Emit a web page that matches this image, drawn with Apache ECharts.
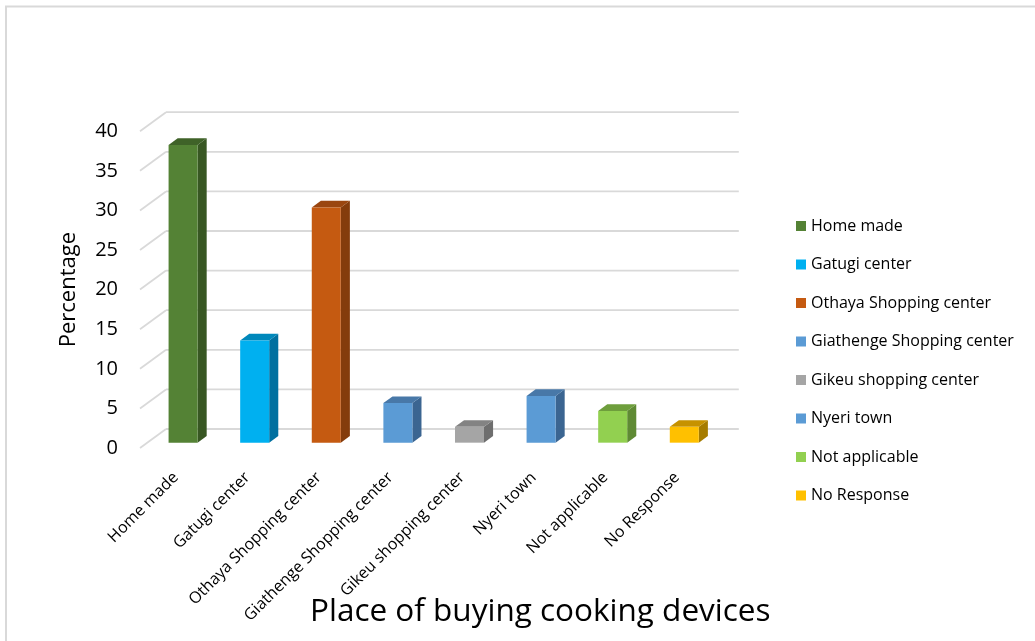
<!DOCTYPE html>
<html>
<head>
<meta charset="utf-8">
<script src="https://cdn.jsdelivr.net/npm/echarts@6/dist/echarts.min.js"></script>
<style>
  html, body { margin: 0; padding: 0; background: #fff; }
  #chart { width: 1035px; height: 641px; }
</style>
</head>
<body>
<div id="chart"></div>
<script>
// Place where households bought their cooking devices (percent of respondents)
const categories = [
  'Home made', 'Gatugi center', 'Othaya Shopping center', 'Giathenge Shopping center',
  'Gikeu shopping center', 'Nyeri town', 'Not applicable', 'No Response'
];
const percentages = [37.6, 12.9, 29.7, 5.0, 2.0, 5.9, 4.0, 2.0];
const yTicks = [0, 5, 10, 15, 20, 25, 30, 35, 40];

// face colours: front, side (darker), top
const palette = [
  ['#548235', '#385723', '#3f6228'],
  ['#00b0f0', '#0070a0', '#0088bb'],
  ['#c55a11', '#843c0c', '#9a4610'],
  ['#5b9bd5', '#3b6591', '#4878a8'],
  ['#a5a5a5', '#6e6e6e', '#838383'],
  ['#5b9bd5', '#3b6591', '#4878a8'],
  ['#92d050', '#5f8a34', '#6e9e3c'],
  ['#ffc000', '#a67c00', '#c69200']
];

const FONT = 'Open Sans';
// depth of the chart box, in pixels (right / up)
const DEPTH = [26, -19];
// bars occupy this slice of the depth
const BAR_D0 = 0.28, BAR_D1 = 0.63;

function renderGrid(params, api) {
  const cs = params.coordSys;
  const v = api.value(0);
  const y = api.coord([0, v])[1];
  const x0 = cs.x;
  const style = { stroke: '#d9d9d9', lineWidth: 1.8 };
  return {
    type: 'group',
    children: [
      { type: 'line', shape: { x1: x0, y1: y, x2: x0 + DEPTH[0], y2: y + DEPTH[1] }, style },
      { type: 'line', shape: { x1: x0 + DEPTH[0], y1: y + DEPTH[1], x2: x0 + DEPTH[0] + cs.width, y2: y + DEPTH[1] }, style }
    ]
  };
}

function makeBarRenderer(colors) {
  return function (params, api) {
    const i = api.value(0), v = api.value(1);
    const base = api.coord([i, 0]);
    const top = api.coord([i, v]);
    const band = api.size([1, 0])[0];
    const w = band * 0.405;
    const ox = DEPTH[0] * BAR_D0, oy = DEPTH[1] * BAR_D0;
    const dx = DEPTH[0] * (BAR_D1 - BAR_D0), dy = DEPTH[1] * (BAR_D1 - BAR_D0);
    const xl = base[0] - w / 2 + ox, xr = base[0] + w / 2 + ox;
    const yb = base[1] + oy, yt = top[1] + oy;
    return {
      type: 'group',
      children: [
        { type: 'polygon', shape: { points: [[xr, yb], [xr + dx, yb + dy], [xr + dx, yt + dy], [xr, yt]] },
          style: { fill: colors[1] } },
        { type: 'polygon', shape: { points: [[xl, yt], [xr, yt], [xr + dx, yt + dy], [xl + dx, yt + dy]] },
          style: { fill: colors[2] } },
        { type: 'rect', shape: { x: xl, y: yt, width: xr - xl, height: yb - yt },
          style: { fill: colors[0] } }
      ]
    };
  };
}

const barSeries = categories.map((name, i) => ({
  type: 'custom',
  name: name,
  itemStyle: { color: palette[i][0] },
  renderItem: makeBarRenderer(palette[i]),
  data: [[i, percentages[i]]],
  z: 3
}));

const chart = echarts.init(document.getElementById('chart'), null, { renderer: 'canvas' });
chart.setOption({
  animation: false,
  backgroundColor: '#ffffff',
  title: {
    text: 'Place of buying cooking devices',
    left: 305,
    top: 591,
    textStyle: { fontFamily: FONT, fontSize: 31.5, fontWeight: 'normal', color: '#000' }
  },
  legend: {
    orient: 'vertical',
    left: 791,
    top: 212,
    itemWidth: 10,
    itemHeight: 10,
    itemGap: 20.5,
    icon: 'rect',
    data: categories,
    textStyle: { fontFamily: FONT, fontSize: 16, color: '#000', lineHeight: 18 }
  },
  grid: { left: 140, width: 572.8, top: 131.2, bottom: 193, containLabel: false },
  xAxis: {
    type: 'category', data: categories,
    axisLine: { show: false }, axisTick: { show: false },
    axisLabel: { rotate: 45, margin: 27, interval: 0, fontFamily: FONT, fontSize: 16, color: '#000' }
  },
  yAxis: {
    type: 'value', min: 0, max: 40, interval: 5,
    name: 'Percentage', nameLocation: 'middle', nameGap: 60,
    nameTextStyle: { fontFamily: FONT, fontSize: 22, color: '#000' },
    axisLine: { show: false }, axisTick: { show: false }, splitLine: { show: false },
    axisLabel: { margin: 22, fontFamily: FONT, fontSize: 20, color: '#000' }
  },
  graphic: [
    { type: 'line', shape: { x1: 5, y1: 6.5, x2: 1035, y2: 6.5 }, style: { stroke: '#d9d9d9', lineWidth: 2 } },
    { type: 'line', shape: { x1: 6, y1: 6, x2: 6, y2: 641 }, style: { stroke: '#d9d9d9', lineWidth: 2 } }
  ],
  series: [
    {
      type: 'custom',
      name: 'gridlines',
      renderItem: renderGrid,
      data: yTicks.map(v => [v]),
      silent: true,
      z: 1
    }
  ].concat(barSeries)
});
</script>
</body>
</html>
